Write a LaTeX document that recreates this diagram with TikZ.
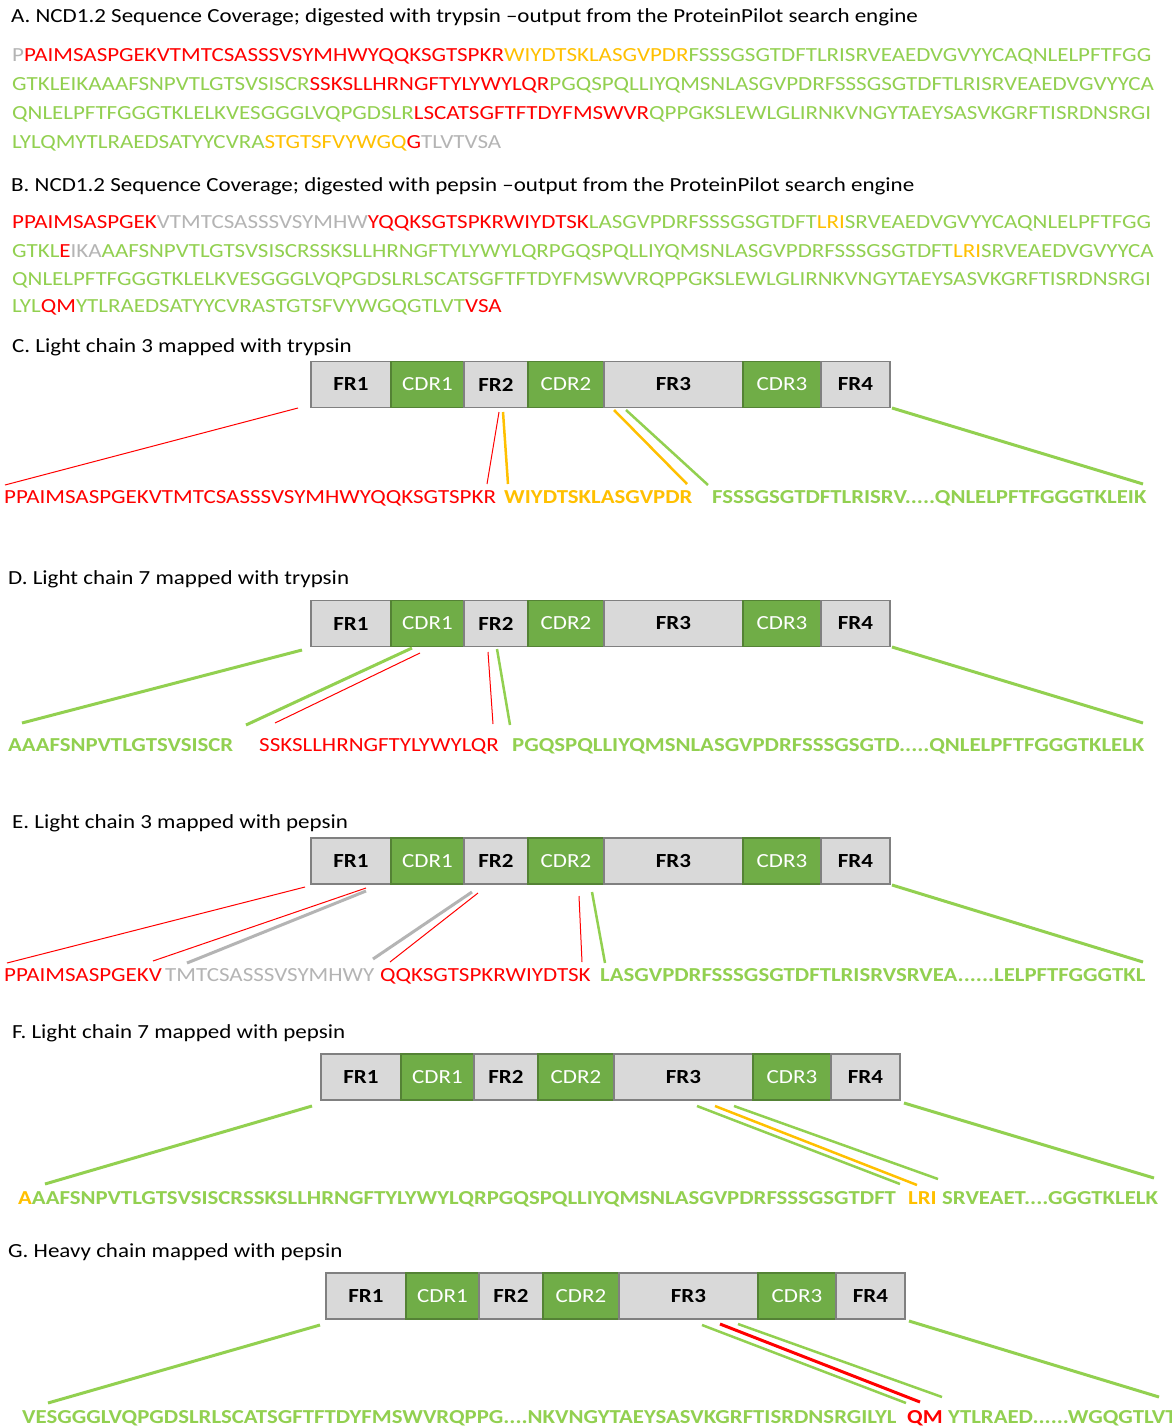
\documentclass[tikz,border=0pt]{standalone}
\usepackage{fontspec}
\setmainfont{Carlito}[FakeStretch=1.15]
\usetikzlibrary{calc}

\definecolor{pepred}{HTML}{FF0000}
\definecolor{pepyel}{HTML}{FFC000}
\definecolor{pepgrn}{HTML}{92D050}
\definecolor{pepgry}{HTML}{B4B4B4}
\definecolor{cdrgrn}{HTML}{70AD47}
\definecolor{cdredge}{HTML}{548235}
\definecolor{frgry}{HTML}{D9D9D9}
\definecolor{edgegry}{HTML}{808080}

\begin{document}
\begin{tikzpicture}[x=1pt,y=-1pt,
  title/.style={inner sep=0pt,anchor=base west,font=\fontsize{20}{24}\selectfont},
  seq/.style={inner sep=0pt,anchor=base west,font=\fontsize{20}{24}\selectfont},
  seqb/.style={inner sep=0pt,anchor=base west,font=\fontsize{19.8}{24}\selectfont\bfseries},
  fr/.style={draw=edgegry,fill=frgry,line width=1.5pt,inner sep=0pt,minimum height=46pt,font=\fontsize{20}{24}\selectfont\bfseries},
  cdr/.style={draw=cdredge,fill=cdrgrn,text=white,line width=1.5pt,inner sep=0pt,minimum height=46pt,font=\fontsize{20}{24}\selectfont},
  thin/.style={line width=1pt},
  mid/.style={line width=2.5pt},
  thick/.style={line width=3pt}]
\useasboundingbox[fill=white] (0,0) rectangle (1171,1426);

\node[title] (tA) at (11,23) {A. NCD1.2 Sequence Coverage; digested with trypsin –output from the ProteinPilot search engine};
\node[seq] (A1) at (12,62) {\textcolor{pepgry}{P}\textcolor{pepred}{PAIMSASPGEKVTMTCSASSSVSYMHWYQQKSGTSPKR}\textcolor{pepyel}{WIYDTSKLASGVPDR}\textcolor{pepgrn}{FSSSGSGTDFTLRISRVEAEDVGVYYCAQNLELPFTFGG}};
\node[seq] (A2) at (12,91) {\textcolor{pepgrn}{GTKLEIKAAAFSNPVTLGTSVSISCR}\textcolor{pepred}{SSKSLLHRNGFTYLYWYLQR}\textcolor{pepgrn}{PGQSPQLLIYQMSNLASGVPDRFSSSGSGTDFTLRISRVEAEDVGVYYCA}};
\node[seq] (A3) at (12,120) {\textcolor{pepgrn}{QNLELPFTFGGGTKLELKVESGGGLVQPGDSLR}\textcolor{pepred}{LSCATSGFTFTDYFMSWVR}\textcolor{pepgrn}{QPPGKSLEWLGLIRNKVNGYTAEYSASVKGRFTISRDNSRGI}};
\node[seq] (A4) at (12,149) {\textcolor{pepgrn}{LYLQMYTLRAEDSATYYCVRA}\textcolor{pepyel}{STGTSFVYWGQ}\textcolor{pepred}{G}\textcolor{pepgry}{TLVTVSA}};

\node[title] (tB) at (11,191) {B. NCD1.2 Sequence Coverage; digested with pepsin –output from the ProteinPilot search engine};
\node[seq] (B1) at (12,228) {\textcolor{pepred}{PPAIMSASPGEK}\textcolor{pepgry}{VTMTCSASSSVSYMHW}\textcolor{pepred}{YQQKSGTSPKRWIYDTSK}\textcolor{pepgrn}{LASGVPDRFSSSGSGTDFT}\textcolor{pepyel}{LRI}\textcolor{pepgrn}{SRVEAEDVGVYYCAQNLELPFTFGG}};
\node[seq] (B2) at (12,257) {\textcolor{pepgrn}{GTKL}\textcolor{pepred}{E}\textcolor{pepgry}{IKA}\textcolor{pepgrn}{AAFSNPVTLGTSVSISCRSSKSLLHRNGFTYLYWYLQRPGQSPQLLIYQMSNLASGVPDRFSSSGSGTDFT}\textcolor{pepyel}{LRI}\textcolor{pepgrn}{SRVEAEDVGVYYCA}};
\node[seq] (B3) at (12,285) {\textcolor{pepgrn}{QNLELPFTFGGGTKLELKVESGGGLVQPGDSLRLSCATSGFTFTDYFMSWVRQPPGKSLEWLGLIRNKVNGYTAEYSASVKGRFTISRDNSRGI}};
\node[seq] (B4) at (12,312) {\textcolor{pepgrn}{LYL}\textcolor{pepred}{QM}\textcolor{pepgrn}{YTLRAEDSATYYCVRASTGTSFVYWGQGTLVT}\textcolor{pepred}{VSA}};

\node[title] (tC) at (12,352) {C. Light chain 3 mapped with trypsin};
\node[title] (tD) at (8,584) {D. Light chain 7 mapped with trypsin};
\node[title] (tE) at (12,828) {E. Light chain 3 mapped with pepsin};
\node[title] (tF) at (12,1038) {F. Light chain 7 mapped with pepsin};
\node[title] (tG) at (8,1257) {G. Heavy chain mapped with pepsin};

\foreach \bar/\bx/\by in {C/311/384.5,D/311/623.5,E/311/861,F/321/1077,G/326/1296}{
  \foreach \sty/\a/\b/\lab in {fr/0/80/FR1,cdr/80/153/CDR1,fr/153/217/FR2,cdr/217/293/CDR2,fr/293/432/FR3,cdr/432/510/CDR3,fr/510/579/FR4}
    \node[\sty,minimum width={(\b-\a)*1pt}] (\bar\lab) at ({\bx+(\a+\b)/2},\by) {\lab};
}

\node[seq,pepred] (C1) at (4,503) {PPAIMSASPGEKVTMTCSASSSVSYMHWYQQKSGTSPKR};
\node[seqb,pepyel] (C2) at (504,503) {WIYDTSKLASGVPDR};
\node[seqb,pepgrn] (C3) at (712,503) {FSSSGSGTDFTLRISRV.....QNLELPFTFGGGTKLEIK};
\coordinate (c1a) at (298,408); \coordinate (c1b) at (5,485);
\coordinate (c2a) at (499,412); \coordinate (c2b) at (487,484);
\coordinate (c3a) at (503,412); \coordinate (c3b) at (508,484);
\coordinate (c4a) at (614,410); \coordinate (c4b) at (687,484);
\coordinate (c5a) at (626,410); \coordinate (c5b) at (708,485);
\coordinate (c6a) at (892,408); \coordinate (c6b) at (1143,484);
\draw[pepred,thin] (c1a)--(c1b) (c2a)--(c2b);
\draw[pepyel,mid] (c3a)--(c3b) (c4a)--(c4b);
\draw[pepgrn,mid] (c5a)--(c5b);
\draw[pepgrn,thick] (c6a)--(c6b);

\node[seqb,pepgrn] (D1) at (8,751) {AAAFSNPVTLGTSVSISCR};
\node[seq,pepred] (D2) at (259,751) {SSKSLLHRNGFTYLYWYLQR};
\node[seqb,pepgrn] (D3) at (512,751) {PGQSPQLLIYQMSNLASGVPDRFSSSGSGTD.....QNLELPFTFGGGTKLELK};
\coordinate (d1a) at (302,650); \coordinate (d1b) at (22,723);
\coordinate (d2a) at (412,648); \coordinate (d2b) at (246,725);
\coordinate (d3a) at (420,653); \coordinate (d3b) at (275,723);
\coordinate (d4a) at (488,652); \coordinate (d4b) at (493,724);
\coordinate (d5a) at (497,649); \coordinate (d5b) at (510,725);
\coordinate (d6a) at (892,647); \coordinate (d6b) at (1143,723);
\draw[pepgrn,thick] (d1a)--(d1b) (d2a)--(d2b) (d6a)--(d6b);
\draw[pepred,thin] (d3a)--(d3b) (d4a)--(d4b);
\draw[pepgrn,mid] (d5a)--(d5b);

\node[seq,pepred] (E1) at (4,981) {PPAIMSASPGEKV};
\node[seq,pepgry] (E2) at (165,981) {TMTCSASSSVSYMHWY};
\node[seq,pepred] (E3) at (380,981) {QQKSGTSPKRWIYDTSK};
\node[seqb,pepgrn] (E4) at (600,981) {LASGVPDRFSSSGSGTDFTLRISRVSRVEA......LELPFTFGGGTKL};
\coordinate (e1a) at (305,887); \coordinate (e1b) at (7,963);
\coordinate (e2a) at (366,888); \coordinate (e2b) at (153,961);
\coordinate (e3a) at (366,891); \coordinate (e3b) at (187,963);
\coordinate (e4a) at (472,892); \coordinate (e4b) at (373,959);
\coordinate (e5a) at (478,893); \coordinate (e5b) at (390,962);
\coordinate (e6a) at (579,896); \coordinate (e6b) at (582,962);
\coordinate (e7a) at (592,892); \coordinate (e7b) at (605,963);
\coordinate (e8a) at (892,885); \coordinate (e8b) at (1143,962);
\draw[pepred,thin] (e1a)--(e1b) (e2a)--(e2b) (e5a)--(e5b) (e6a)--(e6b);
\draw[pepgry,thick] (e3a)--(e3b) (e4a)--(e4b);
\draw[pepgrn,mid] (e7a)--(e7b);
\draw[pepgrn,thick] (e8a)--(e8b);

\node[seqb,pepgrn] (F1) at (18,1204) {\textcolor{pepyel}{A}AAFSNPVTLGTSVSISCRSSKSLLHRNGFTYLYWYLQRPGQSPQLLIYQMSNLASGVPDRFSSSGSGTDFT};
\node[seqb,pepyel] (F2) at (908,1204) {LRI};
\node[seqb,pepgrn] (F3) at (942,1204) {SRVEAET....GGGTKLELK};
\coordinate (f1a) at (312,1106); \coordinate (f1b) at (45,1184);
\coordinate (f2a) at (697,1106); \coordinate (f2b) at (900,1184);
\coordinate (f3a) at (715,1106); \coordinate (f3b) at (917,1185);
\coordinate (f4a) at (734,1106); \coordinate (f4b) at (938,1179);
\coordinate (f5a) at (904,1103); \coordinate (f5b) at (1154,1178);
\draw[pepgrn,thick] (f1a)--(f1b) (f5a)--(f5b);
\draw[pepgrn,mid] (f2a)--(f2b) (f4a)--(f4b);
\draw[pepyel,mid] (f3a)--(f3b);

\node[seqb,pepgrn] (G1) at (22,1423) {VESGGGLVQPGDSLRLSCATSGFTFTDYFMSWVRQPPG....NKVNGYTAEYSASVKGRFTISRDNSRGILYL};
\node[seqb,pepred] (G2) at (907,1423) {QM};
\node[seqb,pepgrn] (G3) at (948,1423) {YTLRAED......WGQGTLVT};
\coordinate (g1a) at (320,1325); \coordinate (g1b) at (48,1403);
\coordinate (g2a) at (702,1325); \coordinate (g2b) at (906,1403);
\coordinate (g3a) at (720,1324); \coordinate (g3b) at (920,1402);
\coordinate (g4a) at (738,1324); \coordinate (g4b) at (942,1397);
\coordinate (g5a) at (909,1321); \coordinate (g5b) at (1159,1397);
\draw[pepgrn,thick] (g1a)--(g1b) (g5a)--(g5b);
\draw[pepgrn,mid] (g2a)--(g2b) (g4a)--(g4b);
\draw[pepred,thick] (g3a)--(g3b);
\end{tikzpicture}
\end{document}
